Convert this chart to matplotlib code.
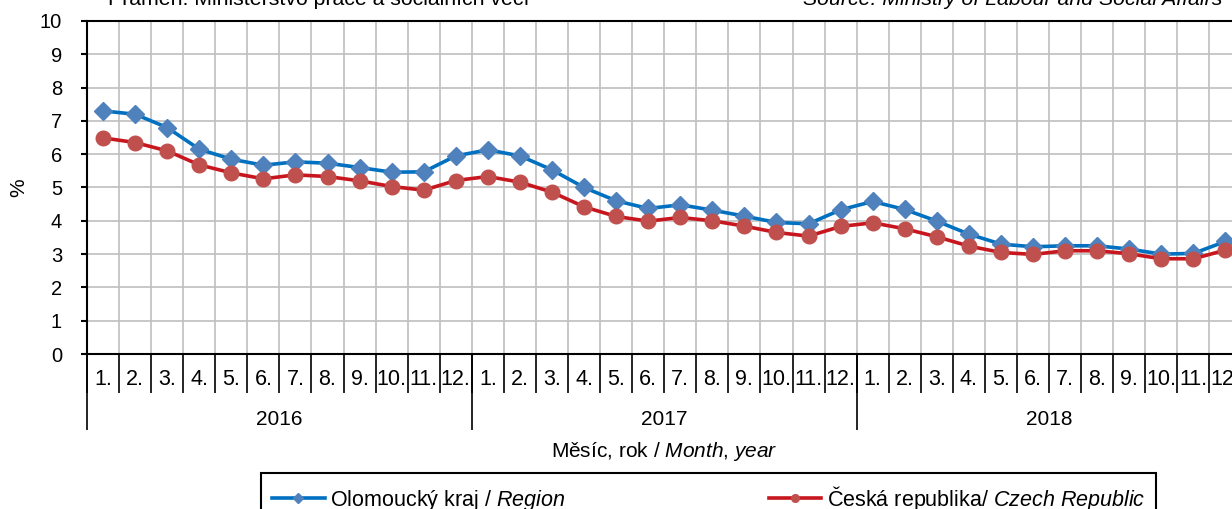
import matplotlib
import matplotlib.pyplot as plt
import numpy as np

matplotlib.use('Agg')

plt.rcParams['font.family'] = ['Liberation Sans', 'DejaVu Sans']
plt.rcParams['mathtext.fontset'] = 'custom'
plt.rcParams['mathtext.rm'] = 'Liberation Sans'
plt.rcParams['mathtext.it'] = 'Liberation Sans:italic'

# Registered unemployment share, monthly 2016-2018
years = ['2016', '2017', '2018']
months = [f'{m}.' for m in range(1, 13)]
olomoucky = [7.3, 7.2, 6.8, 6.15, 5.85, 5.67, 5.77, 5.73, 5.6, 5.46, 5.47, 5.95,
             6.13, 5.95, 5.53, 5.0, 4.6, 4.37, 4.48, 4.32, 4.14, 3.95, 3.91, 4.33,
             4.58, 4.34, 3.99, 3.6, 3.3, 3.22, 3.25, 3.25, 3.15, 3.0, 3.02, 3.38]
cr = [6.49, 6.35, 6.1, 5.68, 5.44, 5.26, 5.38, 5.33, 5.2, 5.03, 4.92, 5.21,
      5.33, 5.16, 4.86, 4.42, 4.13, 3.99, 4.1, 4.0, 3.84, 3.65, 3.54, 3.83,
      3.94, 3.76, 3.52, 3.24, 3.05, 2.99, 3.1, 3.1, 3.01, 2.86, 2.86, 3.12]
label_region = 'Olomoucký kraj / $\\it{Region}$'
label_cr = 'Česká republika/ $\\it{Czech\\ Republic}$'

W, H = 1232, 509
fig = plt.figure(figsize=(W / 100, H / 100), dpi=100)
# plot area runs past the right edge of the picture, as in the source
ax = fig.add_axes([87 / W, 1 - 354 / H, 1154.5 / W, 333 / H])

n = len(olomoucky)
x = np.arange(n)

ax.plot(x, olomoucky, color='#0070C0', lw=2.6, marker='D', ms=9.5,
        mfc='#4F81BD', mec='#4F81BD', label=label_region, zorder=3)
ax.plot(x, cr, color='#C8161E', lw=2.6, marker='o', ms=10.5,
        mfc='#C0504D', mec='#C0504D', label=label_cr, zorder=3)

ax.set_xlim(-0.5, n - 0.5)
ax.set_ylim(0, 10)
ax.set_yticks(range(0, 11))
ax.set_xticks(np.arange(-0.5, n, 1.0))
ax.tick_params(axis='x', length=0, labelbottom=False)
ax.tick_params(axis='y', length=4, width=1.5, pad=14, labelsize=14.5)
ax.grid(True, color='#BFBFBF', lw=1.2)
ax.set_axisbelow(True)
for side in ['left', 'top', 'bottom', 'right']:
    ax.spines[side].set_linewidth(1.5)
    ax.spines[side].set_color('black')

# two-level category axis: months and years
xt = ax.get_xaxis_transform()
bounds = np.arange(-0.5, n, 1.0)
ax.vlines(bounds, -0.117, 0, transform=xt, color='black', lw=1.2, clip_on=False)
year_bounds = np.arange(-0.5, n, 12.0)
ax.vlines(year_bounds, -0.228, 0, transform=xt, color='black', lw=1.2, clip_on=False)
for i in range(n):
    ax.text(i, -0.078, months[i % 12], transform=xt, ha='center', va='center',
            fontsize=15.5)
for k, yr in enumerate(years):
    ax.text(k * 12 + 5.5, -0.197, yr, transform=xt, ha='center', va='center',
            fontsize=15)

ax.text(0.5, -0.294, 'Měsíc, rok / $\\it{Month{,}\\ year}$', transform=ax.transAxes,
        ha='center', va='center', fontsize=15)
fig.text(19 / W, 1 - 188 / H, '%', rotation=90, ha='center', va='center', fontsize=15)

fig.text(108 / W, 1 - 5 / H, 'Pramen: Ministerstvo práce a sociálních věcí',
         ha='left', va='baseline', fontsize=15.3)
fig.text(803 / W, 1 - 5 / H, 'Source: Ministry of Labour and Social Affairs',
         ha='left', va='baseline', fontsize=15.3, style='italic')

leg = fig.legend(loc='upper left', ncol=2, mode='expand',
                 bbox_to_anchor=(261 / W, 0, 895 / W, 1 - 473 / H),
                 bbox_transform=fig.transFigure, borderaxespad=0,
                 fontsize=15.5, frameon=True, fancybox=False, framealpha=1,
                 edgecolor='black', borderpad=0.5, handlelength=2.45,
                 handletextpad=0.25)
leg.get_frame().set_linewidth(1.5)
for h in leg.legend_handles:
    h.set_markersize(5.5)

fig.savefig('out.png', dpi=100)
